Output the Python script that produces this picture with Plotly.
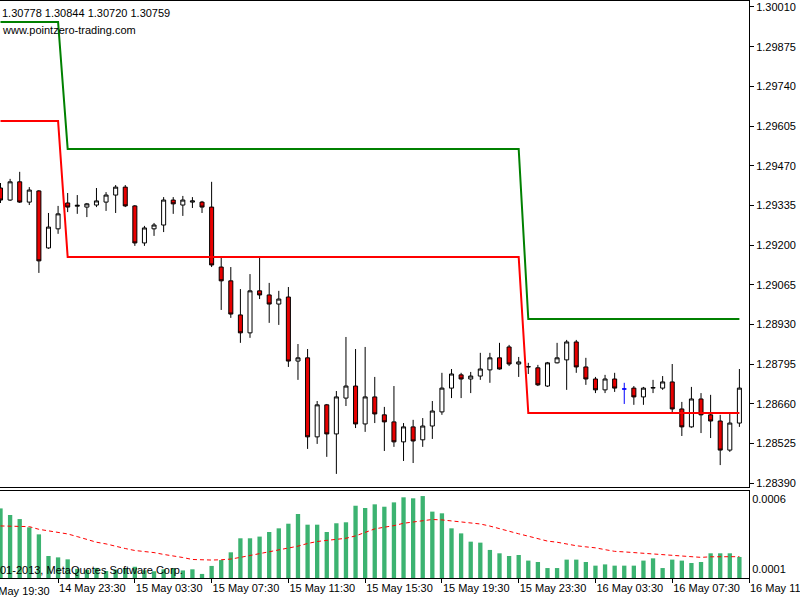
import plotly.graph_objects as go
import pandas as pd

# 30-minute bars, 14 May 2013 20:30 .. 16 May 2013 11:00
times = pd.date_range("2013-05-14 20:30", periods=78, freq="30min")

open_ = [1.29394, 1.29353, 1.29415, 1.29346, 1.29384, 1.29190, 1.29255, 1.29343, 1.29332, 1.29329,
         1.29336, 1.29346, 1.29370, 1.29397, 1.29333, 1.29207, 1.29255, 1.29268, 1.29353, 1.29336,
         1.29346, 1.29346, 1.29329, 1.29125, 1.29078, 1.28962, 1.28901, 1.29044, 1.29030, 1.28999,
         1.29023, 1.28805, 1.28816, 1.28547, 1.28656, 1.28557, 1.28679, 1.28720, 1.28591, 1.28683,
         1.28622, 1.28598, 1.28530, 1.28581, 1.28537, 1.28584, 1.28632, 1.28713, 1.28758, 1.28744,
         1.28754, 1.28775, 1.28816, 1.28853, 1.28795, 1.28785, 1.28782, 1.28720, 1.28799, 1.28809,
         1.28870, 1.28785, 1.28744, 1.28707, 1.28744, 1.28710, 1.28713, 1.28683, 1.28713, 1.28713,
         1.28734, 1.28642, 1.28581, 1.28676, 1.28622, 1.28601, 1.28502, 1.28594]
high = [1.29411, 1.29425, 1.29449, 1.29397, 1.29387, 1.29309, 1.29333, 1.29377, 1.29370, 1.29343,
        1.29394, 1.29380, 1.29404, 1.29404, 1.29336, 1.29265, 1.29275, 1.29363, 1.29363, 1.29367,
        1.29363, 1.29350, 1.29415, 1.29156, 1.29125, 1.29050, 1.29101, 1.29159, 1.29071, 1.29044,
        1.29057, 1.28863, 1.28846, 1.28669, 1.28659, 1.28703, 1.28887, 1.28846, 1.28853, 1.28751,
        1.28649, 1.28720, 1.28594, 1.28605, 1.28611, 1.28669, 1.28765, 1.28778, 1.28765, 1.28768,
        1.28833, 1.28833, 1.28867, 1.28860, 1.28819, 1.28799, 1.28792, 1.28802, 1.28867, 1.28877,
        1.28877, 1.28816, 1.28751, 1.28758, 1.28765, 1.28731, 1.28720, 1.28717, 1.28741, 1.28754,
        1.28795, 1.28666, 1.28717, 1.28696, 1.28690, 1.28622, 1.28628, 1.28778]
low = [1.29343, 1.29350, 1.29343, 1.29336, 1.29105, 1.29187, 1.29238, 1.29312, 1.29306, 1.29295,
       1.29329, 1.29316, 1.29309, 1.29329, 1.29197, 1.29197, 1.29231, 1.29244, 1.29306, 1.29299,
       1.29326, 1.29309, 1.29125, 1.28979, 1.28952, 1.28867, 1.28884, 1.29016, 1.28935, 1.28928,
       1.28785, 1.28741, 1.28506, 1.28523, 1.28479, 1.28421, 1.28652, 1.28577, 1.28564, 1.28594,
       1.28499, 1.28513, 1.28465, 1.28458, 1.28513, 1.28540, 1.28622, 1.28679, 1.28679, 1.28696,
       1.28741, 1.28731, 1.28776, 1.28788, 1.28751, 1.28761, 1.28720, 1.28717, 1.28797, 1.28707,
       1.28765, 1.28724, 1.28696, 1.28696, 1.28700, 1.28659, 1.28656, 1.28656, 1.28696, 1.28707,
       1.28628, 1.28550, 1.28578, 1.28560, 1.28543, 1.28451, 1.28496, 1.28581]
close = [1.29353, 1.29415, 1.29346, 1.29387, 1.29146, 1.29261, 1.29306, 1.29329, 1.29335, 1.29340,
         1.29350, 1.29370, 1.29397, 1.29333, 1.29207, 1.29258, 1.29268, 1.29353, 1.29340, 1.29353,
         1.29350, 1.29329, 1.29132, 1.29078, 1.28965, 1.28901, 1.29044, 1.29030, 1.28999, 1.29016,
         1.28805, 1.28816, 1.28547, 1.28656, 1.28557, 1.28683, 1.28720, 1.28591, 1.28683, 1.28625,
         1.28598, 1.28530, 1.28581, 1.28533, 1.28584, 1.28635, 1.28713, 1.28761, 1.28744, 1.28754,
         1.28778, 1.28816, 1.28778, 1.28795, 1.28802, 1.28786, 1.28724, 1.28799, 1.28816, 1.28870,
         1.28785, 1.28744, 1.28707, 1.28744, 1.28713, 1.28710, 1.28683, 1.28713, 1.28715, 1.28734,
         1.28642, 1.28581, 1.28676, 1.28622, 1.28601, 1.28502, 1.28594, 1.28713]

# channel levels (upper = green, lower = red)
upper_level = [1.29959] * 7 + [1.29527] * 48 + [1.28948] * 23
lower_level = [1.29622] * 7 + [1.29159] * 48 + [1.28628] * 23

# lower window: histogram and its dashed moving average
hist = [0.000536, 0.000489, 0.000460, 0.000401, 0.000351, 0.000197, 0.000187, 0.000173, 0.000105, 0.000098,
        0.000112, 0.000090, 0.000100, 0.000108, 0.000120, 0.000095, 0.000088, 0.000102, 0.000110, 0.000094,
        0.000102, 0.000069, 0.000126, 0.000168, 0.000223, 0.000323, 0.000323, 0.000335, 0.000368, 0.000394,
        0.000427, 0.000496, 0.000420, 0.000420, 0.000368, 0.000430, 0.000437, 0.000555, 0.000539, 0.000565,
        0.000548, 0.000579, 0.000615, 0.000608, 0.000624, 0.000513, 0.000501, 0.000394, 0.000358, 0.000299,
        0.000292, 0.000240, 0.000216, 0.000197, 0.000204, 0.000164, 0.000154, 0.000111, 0.000111, 0.000171,
        0.000171, 0.000154, 0.000128, 0.000137, 0.000128, 0.000128, 0.000128, 0.000164, 0.000180, 0.000111,
        0.000171, 0.000164, 0.000147, 0.000154, 0.000216, 0.000216, 0.000216, 0.000190]
signal = [0.000411, 0.000411, 0.000411, 0.000406, 0.000387, 0.000377, 0.000365, 0.000354, 0.000335, 0.000313,
          0.000295, 0.000283, 0.000265, 0.000250, 0.000236, 0.000229, 0.000221, 0.000208, 0.000199, 0.000186,
          0.000172, 0.000168, 0.000168, 0.000170, 0.000175, 0.000187, 0.000200, 0.000215, 0.000228, 0.000241,
          0.000252, 0.000267, 0.000286, 0.000300, 0.000308, 0.000316, 0.000323, 0.000340, 0.000365, 0.000390,
          0.000402, 0.000413, 0.000430, 0.000440, 0.000446, 0.000457, 0.000454, 0.000448, 0.000441, 0.000432,
          0.000425, 0.000410, 0.000390, 0.000370, 0.000355, 0.000338, 0.000323, 0.000303, 0.000295, 0.000281,
          0.000270, 0.000262, 0.000255, 0.000242, 0.000230, 0.000226, 0.000221, 0.000217, 0.000211, 0.000208,
          0.000199, 0.000194, 0.000190, 0.000187, 0.000191, 0.000192, 0.000192, 0.000192]

price_ticks = [1.30010, 1.29875, 1.29740, 1.29605, 1.29470, 1.29335, 1.29200,
               1.29065, 1.28930, 1.28795, 1.28660, 1.28525, 1.28390]
time_tick_vals = ["2013-05-14 23:30", "2013-05-15 03:30", "2013-05-15 07:30", "2013-05-15 11:30",
                  "2013-05-15 15:30", "2013-05-15 19:30", "2013-05-15 23:30", "2013-05-16 03:30",
                  "2013-05-16 07:30", "2013-05-16 11:30"]
time_tick_text = ["14 May 23:30", "15 May 03:30", "15 May 07:30", "15 May 11:30", "15 May 15:30",
                  "15 May 19:30", "15 May 23:30", "16 May 03:30", "16 May 07:30", "16 May 11:30"]
hist_ticks = [0.0006, 0.0001]
hist_tick_text = ["0.0006", "0.0001"]

header_text = "1.30778 1.30844 1.30720 1.30759"
site_text = "www.pointzero-trading.com"
copyright_text = "01-2013, MetaQuotes Software Corp."

FONT = "Liberation Sans"
BLUE_IDX = 65
main_idx = [i for i in range(len(times)) if i != BLUE_IDX]

fig = go.Figure()
fig.add_trace(go.Scatter(x=times, y=upper_level, mode="lines",
                         line=dict(color="#008000", width=2), hoverinfo="skip"))
fig.add_trace(go.Scatter(x=times, y=lower_level, mode="lines",
                         line=dict(color="#ff0000", width=2), hoverinfo="skip"))
fig.add_trace(go.Candlestick(
    x=[times[i] for i in main_idx],
    open=[open_[i] for i in main_idx], high=[high[i] for i in main_idx],
    low=[low[i] for i in main_idx], close=[close[i] for i in main_idx],
    increasing=dict(fillcolor="#ffffff", line=dict(color="#000000", width=1)),
    decreasing=dict(fillcolor="#e80000", line=dict(color="#000000", width=1)),
    whiskerwidth=0, hoverinfo="skip"))
fig.add_trace(go.Candlestick(
    x=[times[BLUE_IDX]], open=[open_[BLUE_IDX]], high=[high[BLUE_IDX]],
    low=[low[BLUE_IDX]], close=[close[BLUE_IDX]],
    increasing=dict(fillcolor="#0000ff", line=dict(color="#0000ff", width=1)),
    decreasing=dict(fillcolor="#0000ff", line=dict(color="#0000ff", width=1)),
    whiskerwidth=0, hoverinfo="skip"))
fig.add_trace(go.Bar(x=times, y=hist, marker=dict(color="#3cb371", line=dict(width=0)),
                     xaxis="x2", yaxis="y2", hoverinfo="skip"))
fig.add_trace(go.Scatter(x=times, y=signal, mode="lines", xaxis="x2", yaxis="y2",
                         line=dict(color="#ff0000", width=1, dash="4px,3px"), hoverinfo="skip"))

x_range = [pd.Timestamp("2013-05-14 20:28:26"), pd.Timestamp("2013-05-16 11:30:00")]

H = 577.0
fig.update_layout(
    width=800, height=600,
    margin=dict(l=0, r=51, t=1, b=22, autoexpand=False),
    paper_bgcolor="white", plot_bgcolor="white",
    showlegend=False, bargap=0.55, boxgap=0.4,
    font=dict(family=FONT, size=11, color="black"),
    xaxis=dict(domain=[0, 1], anchor="y", range=x_range, type="date", automargin=False,
               showticklabels=False, ticks="", showgrid=False, zeroline=False,
               showline=True, mirror=True, linecolor="black", linewidth=1,
               rangeslider=dict(visible=False)),
    xaxis2=dict(domain=[0, 1], anchor="y2", matches="x", type="date", automargin=False,
                tickvals=time_tick_vals, ticktext=time_tick_text,
                ticks="outside", ticklen=4, tickcolor="black",
                ticklabelposition="outside right", ticklabeloverflow="allow",
                tickfont=dict(family=FONT, size=11, color="black"),
                showgrid=False, zeroline=False,
                showline=True, mirror=True, linecolor="black", linewidth=1),
    yaxis=dict(domain=[(578 - 487) / H, 1], anchor="x", side="right", automargin=False,
               range=[1.283764, 1.300304],
               tickvals=price_ticks, ticktext=[f"{v:.5f}" for v in price_ticks],
               ticks="outside", ticklen=4, tickcolor="black",
               tickfont=dict(family=FONT, size=11, color="black"),
               showgrid=False, zeroline=False,
               showline=True, linecolor="black", linewidth=1),
    yaxis2=dict(domain=[0, (578 - 491) / H], anchor="x2", side="right", automargin=False,
                range=[0.00004, 0.00066],
                tickvals=hist_ticks, ticktext=hist_tick_text, ticks="",
                tickfont=dict(family=FONT, size=11, color="black"),
                showgrid=False, zeroline=False,
                showline=True, linecolor="black", linewidth=1),
    annotations=[
        dict(text=header_text, xref="paper", yref="paper", x=0, y=1, xanchor="left",
             yanchor="top", xshift=0, yshift=-4, showarrow=False,
             font=dict(family=FONT, size=11, color="black")),
        dict(text=site_text, xref="paper", yref="paper", x=0, y=1, xanchor="left",
             yanchor="top", xshift=0, yshift=-21, showarrow=False,
             font=dict(family=FONT, size=11, color="black")),
        dict(text=copyright_text, xref="paper", yref="paper", x=0, y=0, xanchor="left",
             yanchor="bottom", xshift=-2, yshift=0, showarrow=False,
             font=dict(family=FONT, size=11, color="black")),
        dict(text="14 May 19:30", xref="paper", yref="paper", x=-19 / 749, y=0,
             xanchor="left", yanchor="top", yshift=-5, showarrow=False,
             font=dict(family=FONT, size=11, color="black")),
    ],
)

fig.write_html("out.html")
